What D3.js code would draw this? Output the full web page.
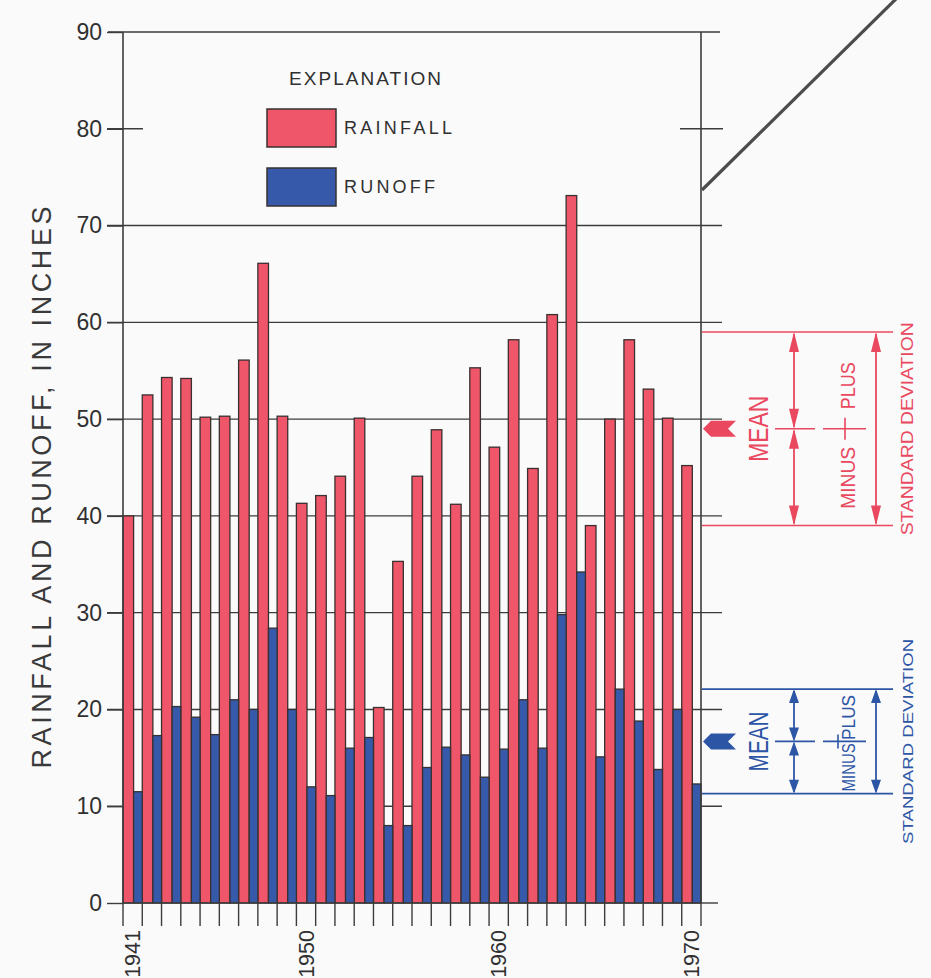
<!DOCTYPE html>
<html>
<head>
<meta charset="utf-8">
<script src="https://cdn.jsdelivr.net/npm/d3@7"></script>
<style>
  html, body { margin: 0; padding: 0; background: #fafafa; }
  svg { display: block; }
</style>
</head>
<body>
<svg id="chart" width="931" height="978"></svg>
<script>
// Annual rainfall and runoff, 1941-1970 (inches)
const years = [1941, 1942, 1943, 1944, 1945, 1946, 1947, 1948, 1949, 1950,
               1951, 1952, 1953, 1954, 1955, 1956, 1957, 1958, 1959, 1960,
               1961, 1962, 1963, 1964, 1965, 1966, 1967, 1968, 1969, 1970];
const rainfall = [40.0, 52.5, 54.3, 54.2, 50.2, 50.3, 56.1, 66.1, 50.3, 41.3,
                  42.1, 44.1, 50.1, 20.2, 35.3, 44.1, 48.9, 41.2, 55.3, 47.1,
                  58.2, 44.9, 60.8, 73.1, 39.0, 50.0, 58.2, 53.1, 50.1, 45.2];
const runoff = [11.5, 17.3, 20.3, 19.2, 17.4, 21.0, 20.0, 28.4, 20.0, 12.0,
                11.1, 16.0, 17.1, 8.0, 8.0, 14.0, 16.1, 15.3, 13.0, 15.9,
                21.0, 16.0, 29.8, 34.2, 15.1, 22.1, 18.8, 13.8, 20.0, 12.3];
const yTicks = [0, 10, 20, 30, 40, 50, 60, 70, 80, 90];
const gridValues = [10, 20, 30, 40, 50, 60, 70];
const yearLabels = [1941, 1950, 1960, 1970];
const rainfallMean = 49.0, rainfallSD = 10.0;
const runoffMean = 16.7, runoffSD = 5.4;

const RED = "#ef5669", BLUE = "#3759aa";
const RED_INK = "#e9485f", BLUE_INK = "#2d55a6";
const LINE = "#3c3c3c", TEXT = "#303030";
const FONT = "'Liberation Sans', Arial, Helvetica, sans-serif";

const svg = d3.select("#chart");
const plotLeft = 123, plotRight = 701, plotTop = 32, plotBottom = 903;

const y = d3.scaleLinear().domain([0, 90]).range([plotBottom, plotTop]);
const x = d3.scaleBand().domain(years).range([plotLeft, plotRight]).padding(0);
const bw = x.bandwidth();
const redW = bw * 0.55;

const rows = years.map((yr, i) => ({ year: yr, rain: rainfall[i], run: runoff[i] }));

// horizontal rules behind the bars
const grid = svg.append("g").attr("stroke", LINE).attr("stroke-width", 1.4);
grid.selectAll("line.rule").data(gridValues).join("line")
  .attr("class", "rule")
  .attr("x1", plotLeft - 16).attr("x2", plotRight + 21)
  .attr("y1", d => y(d)).attr("y2", d => y(d));
grid.append("line").attr("x1", plotLeft - 15).attr("x2", plotRight + 19).attr("y1", y(90)).attr("y2", y(90));
grid.append("line").attr("x1", plotLeft - 16).attr("x2", plotLeft + 20).attr("y1", y(80)).attr("y2", y(80));
grid.append("line").attr("x1", plotRight - 21).attr("x2", plotRight + 22).attr("y1", y(80)).attr("y2", y(80));
grid.append("line").attr("x1", plotRight).attr("x2", plotRight + 17).attr("y1", y(0)).attr("y2", y(0));

// left axis: tick marks and numbers
const yAxis = d3.axisLeft(y).tickValues(yTicks).tickSize(16).tickPadding(5);
svg.append("g")
  .attr("transform", `translate(${plotLeft},0)`)
  .call(yAxis)
  .call(g => {
    g.select(".domain").remove();
    g.selectAll(".tick line").attr("stroke", LINE).attr("stroke-width", 1.4);
    g.selectAll(".tick text")
      .attr("font-family", FONT).attr("font-size", 23).attr("fill", TEXT);
  });

// bars: rainfall (left part of each year) and runoff (right part)
const bars = svg.append("g").attr("stroke", "#3a3030").attr("stroke-width", 1.3);
bars.selectAll("rect.rain").data(rows).join("rect")
  .attr("class", "rain")
  .attr("x", d => x(d.year)).attr("width", redW)
  .attr("y", d => y(d.rain)).attr("height", d => y(0) - y(d.rain))
  .attr("fill", RED);
bars.selectAll("rect.run").data(rows).join("rect")
  .attr("class", "run")
  .attr("x", d => x(d.year) + redW).attr("width", bw - redW)
  .attr("y", d => y(d.run)).attr("height", d => y(0) - y(d.run))
  .attr("fill", BLUE);

// frame
const frame = svg.append("g").attr("stroke", LINE).attr("stroke-width", 1.6);
frame.append("line").attr("x1", plotLeft).attr("x2", plotLeft).attr("y1", y(90)).attr("y2", y(0));
frame.append("line").attr("x1", plotRight).attr("x2", plotRight).attr("y1", y(90)).attr("y2", y(0));
frame.append("line").attr("x1", plotLeft).attr("x2", plotRight).attr("y1", y(0)).attr("y2", y(0));

// year boundary ticks under the axis
const bounds = years.map(d => x(d)).concat([x.range()[1]]);
svg.append("g").attr("stroke", LINE).attr("stroke-width", 1.4)
  .selectAll("line").data(bounds).join("line")
  .attr("x1", d => d).attr("x2", d => d)
  .attr("y1", y(0)).attr("y2", y(0) + 23);

// year labels, rotated
const xAxis = d3.axisBottom(x).tickValues(yearLabels).tickSize(0);
svg.append("g")
  .attr("transform", `translate(0,${y(0)})`)
  .call(xAxis)
  .call(g => {
    g.select(".domain").remove();
    g.selectAll(".tick text")
      .attr("transform", "rotate(-90)")
      .attr("x", -27).attr("y", 0).attr("dy", "0.36em")
      .attr("text-anchor", "end")
      .attr("font-family", FONT).attr("font-size", 21.5).attr("fill", TEXT);
  });

// vertical axis title
svg.append("text")
  .attr("transform", `translate(51,${(y(90) + y(0)) / 2 + 20}) rotate(-90)`)
  .attr("text-anchor", "middle")
  .attr("font-family", FONT).attr("font-size", 27).attr("fill", "#3a3a3a")
  .attr("textLength", 562).attr("lengthAdjust", "spacing")
  .text("RAINFALL AND RUNOFF, IN INCHES");

// explanation box
const legend = svg.append("g").attr("font-family", FONT).attr("fill", TEXT);
legend.append("text").attr("x", 365).attr("y", 85).attr("text-anchor", "middle")
  .attr("font-size", 19).attr("textLength", 152).attr("lengthAdjust", "spacing")
  .text("EXPLANATION");
const legendItems = [
  { label: "RAINFALL", color: RED, top: 109, len: 108 },
  { label: "RUNOFF", color: BLUE, top: 168, len: 91 }
];
legendItems.forEach(it => {
  legend.append("rect").attr("x", 267).attr("y", it.top).attr("width", 69).attr("height", 38)
    .attr("fill", it.color).attr("stroke", "#3a3030").attr("stroke-width", 1.5);
  legend.append("text").attr("x", 344).attr("y", it.top + 25)
    .attr("font-size", 18).attr("textLength", it.len).attr("lengthAdjust", "spacing")
    .text(it.label);
});

// connector line leaving the frame at the upper right
svg.append("line")
  .attr("x1", plotRight + 1).attr("y1", 190).attr("x2", 901).attr("y2", -6)
  .attr("stroke", "#4c4c4c").attr("stroke-width", 3.2);

// mean and standard-deviation brackets
function head(g, cx, tipY, dir, len, wid, color) {
  // dir -1: points up, +1: points down
  g.append("polygon")
    .attr("points", [[cx, tipY], [cx - wid / 2, tipY - dir * len], [cx + wid / 2, tipY - dir * len]]
      .map(p => p.join(",")).join(" "))
    .attr("fill", color).attr("stroke", "none");
}
function doubleArrow(g, cx, y1, y2, len, wid, color) {
  g.append("line").attr("x1", cx).attr("x2", cx).attr("y1", y1 + 2).attr("y2", y2 - 2)
    .attr("stroke", color).attr("stroke-width", 1.8);
  head(g, cx, y1, -1, len, wid, color);
  head(g, cx, y2, 1, len, wid, color);
}
function vText(g, str, cx, cy, size, len, color) {
  g.append("text")
    .attr("transform", `translate(${cx},${cy}) rotate(-90)`)
    .attr("text-anchor", "middle")
    .attr("font-family", FONT).attr("font-size", size).attr("fill", color)
    .attr("textLength", len).attr("lengthAdjust", "spacingAndGlyphs")
    .text(str);
}
function bracket(mean, sd, color, opt) {
  const g = svg.append("g");
  const yt = y(mean + sd), ym = y(mean), yb = y(mean - sd);
  g.selectAll("line.limit").data([yt, yb]).join("line")
    .attr("x1", plotRight + 1).attr("x2", 893).attr("y1", d => d).attr("y2", d => d)
    .attr("stroke", color).attr("stroke-width", 1.6);
  doubleArrow(g, 794, yt, ym, opt.head, 10, color);
  doubleArrow(g, 794, ym, yb, opt.head, 10, color);
  doubleArrow(g, 876, yt, yb, opt.head, 10, color);
  g.append("line").attr("x1", 775).attr("x2", 815).attr("y1", ym).attr("y2", ym)
    .attr("stroke", color).attr("stroke-width", 1.6);
  g.append("line").attr("x1", 823).attr("x2", 866).attr("y1", ym).attr("y2", ym)
    .attr("stroke", color).attr("stroke-width", 1.6);
  g.append("line").attr("x1", opt.divX).attr("x2", opt.divX)
    .attr("y1", ym - opt.divH).attr("y2", ym + opt.divH)
    .attr("stroke", color).attr("stroke-width", 1.6);
  // pennant marking the mean on the frame
  g.append("polygon")
    .attr("points", [[703, ym], [711, ym - 8], [736, ym - 8], [728, ym], [736, ym + 8], [711, ym + 8]]
      .map(p => p.join(",")).join(" "))
    .attr("fill", color);
  vText(g, "MEAN", 768, ym, opt.meanSize, opt.meanLen, color);
  vText(g, "PLUS", 855, ym - opt.plusOff, opt.pmSize, opt.plusLen, color);
  vText(g, "MINUS", 855, ym + opt.minusOff, opt.pmSize, opt.minusLen, color);
  vText(g, "STANDARD DEVIATION", 913, ym + opt.sdOff, opt.sdSize, opt.sdLen, color);
}

bracket(rainfallMean, rainfallSD, RED_INK, {
  head: 20, divX: 845, divH: 11,
  meanSize: 28, meanLen: 66,
  pmSize: 20, plusOff: 43, plusLen: 47, minusOff: 49, minusLen: 62,
  sdSize: 16, sdOff: 0, sdLen: 213
});
bracket(runoffMean, runoffSD, BLUE_INK, {
  head: 14, divX: 838, divH: 7,
  meanSize: 27, meanLen: 60,
  pmSize: 18, plusOff: 24, plusLen: 45, minusOff: 26, minusLen: 48,
  sdSize: 15, sdOff: 0, sdLen: 205
});
</script>
</body>
</html>
